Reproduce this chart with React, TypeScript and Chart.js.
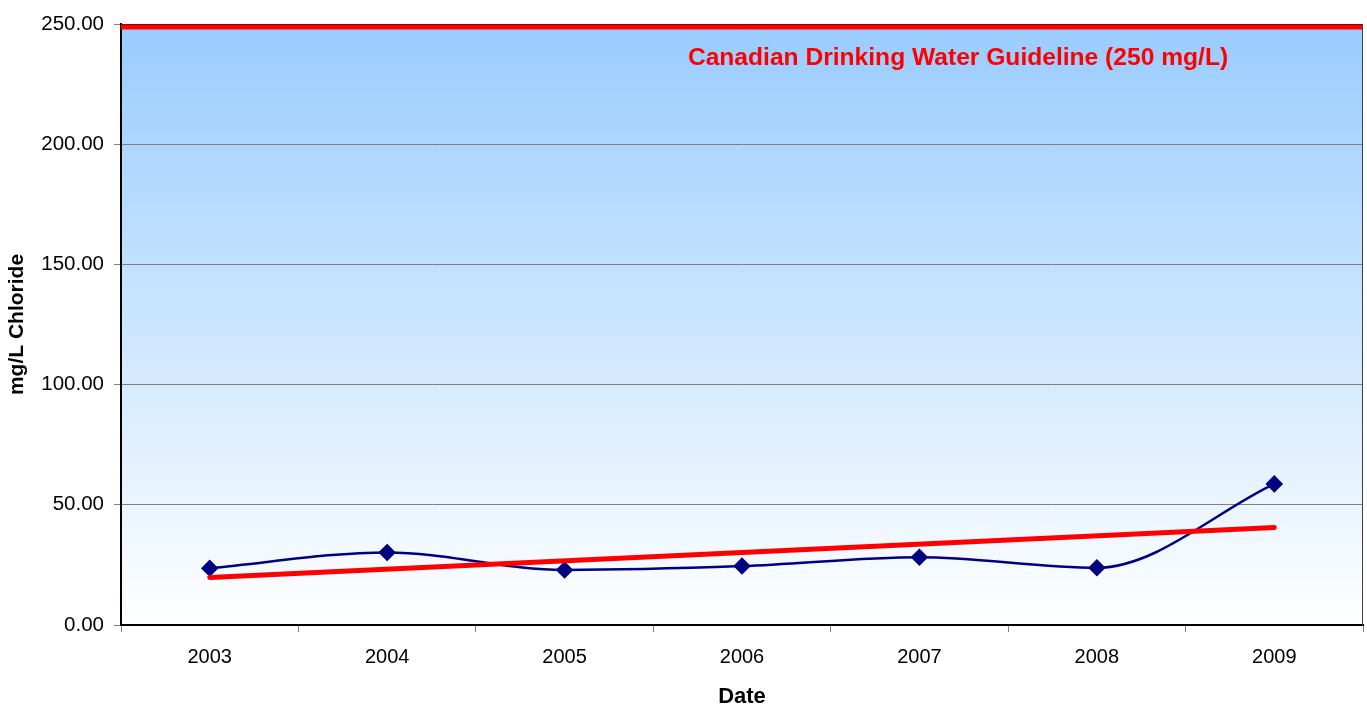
import { useEffect, useRef } from 'react';
import { Chart, registerables } from 'chart.js';

Chart.register(...registerables);

const years = ['2003', '2004', '2005', '2006', '2007', '2008', '2009'];
const chloride = [23.6, 30.2, 22.9, 24.5, 28.2, 23.8, 58.7];
const trendEnds = [19.8, null, null, null, null, null, 40.6];
const yMin = 0;
const yMax = 250;
const yStep = 50;
const guidelineValue = 250;
const guidelineLabel = 'Canadian Drinking Water Guideline (250 mg/L)';
const yTitle = 'mg/L Chloride';
const xTitle = 'Date';

const FONT = '"Liberation Sans", Arial, sans-serif';

const decorPlugin = {
  id: 'decor',
  beforeDraw(chart: any) {
    const { ctx, chartArea } = chart;
    const { left, top, right, bottom } = chartArea;
    const g = ctx.createLinearGradient(0, top, 0, bottom);
    g.addColorStop(0, '#99CCFF');
    g.addColorStop(1, '#FFFFFF');
    ctx.save();
    ctx.fillStyle = g;
    ctx.fillRect(left, top, right - left, bottom - top);
    ctx.restore();
  },
  afterDatasetsDraw(chart: any) {
    const { ctx, chartArea, scales } = chart;
    const { left, top, right, bottom } = chartArea;
    const y = scales.y.getPixelForValue(guidelineValue);
    ctx.save();
    // right border
    ctx.strokeStyle = '#404040';
    ctx.lineWidth = 1;
    ctx.beginPath();
    ctx.moveTo(right - 0.5, top);
    ctx.lineTo(right - 0.5, bottom);
    ctx.stroke();
    // guideline
    ctx.strokeStyle = '#FF0000';
    ctx.lineWidth = 5;
    ctx.beginPath();
    ctx.moveTo(left, y + 3);
    ctx.lineTo(right - 1, y + 3);
    ctx.stroke();
    // label
    ctx.fillStyle = '#FF0000';
    ctx.font = `bold 24.6px ${FONT}`;
    ctx.textAlign = 'center';
    ctx.textBaseline = 'middle';
    ctx.fillText(guidelineLabel, 958, y + 34);
    ctx.restore();
  },
};

export default function App() {
  const ref = useRef<HTMLCanvasElement>(null);
  useEffect(() => {
    document.body.style.margin = '0';
    const chart = new Chart(ref.current as HTMLCanvasElement, {
      type: 'line',
      data: {
        labels: years,
        datasets: [
          {
            label: 'Trend',
            data: trendEnds,
            spanGaps: true,
            borderColor: '#FF0000',
            borderWidth: 5,
            pointRadius: 0,
            tension: 0,
            borderCapStyle: 'round',
          },
          {
            label: 'Chloride',
            data: chloride,
            borderColor: '#000080',
            backgroundColor: '#000080',
            borderWidth: 2.5,
            pointStyle: 'rectRot',
            pointRadius: 7,
            pointBackgroundColor: '#000080',
            pointBorderColor: '#000080',
            cubicInterpolationMode: 'monotone',
            tension: 0.4,
          },
        ],
      },
      options: {
        animation: false,
        responsive: false,
        events: [],
        layout: { autoPadding: false, padding: { top: 24, right: 4, left: 0, bottom: 0 } },
        plugins: { legend: { display: false }, tooltip: { enabled: false } },
        scales: {
          x: {
            offset: true,
            grid: {
              offset: true,
              drawOnChartArea: false,
              drawTicks: true,
              tickLength: 7,
              tickColor: '#808080',
            },
            border: { color: '#000000', width: 2 },
            ticks: { color: '#000', font: { family: FONT, size: 20 }, padding: 13, maxRotation: 0 },
            title: {
              display: true,
              text: xTitle,
              color: '#000',
              font: { family: FONT, size: 22, weight: 'bold', lineHeight: 0.8 },
              padding: { top: 0, bottom: 0 },
            },
            afterFit(s: any) {
              s.height = 81;
              s.paddingLeft = 0;
              s.paddingRight = 0;
            },
          },
          y: {
            min: yMin,
            max: yMax,
            ticks: {
              stepSize: yStep,
              color: '#000',
              font: { family: FONT, size: 20.5 },
              padding: 10,
              callback: (v: any) => Number(v).toFixed(2),
            },
            grid: {
              color: (c: any) => (c.tick && c.tick.value === yMax ? '#000000' : '#808080'),
              tickColor: '#808080',
              tickLength: 7,
              lineWidth: 1,
            },
            border: { color: '#000000', width: 2 },
            title: {
              display: true,
              text: yTitle,
              color: '#000',
              font: { family: FONT, size: 21, weight: 'bold', lineHeight: 1.2 },
              padding: { top: 5, bottom: 4 },
            },
            afterFit(s: any) {
              s.width = 121;
            },
          },
        },
      },
      plugins: [decorPlugin],
    } as any);
    return () => chart.destroy();
  }, []);
  return <canvas ref={ref} width={1367} height={706} style={{ display: 'block' }} />;
}
